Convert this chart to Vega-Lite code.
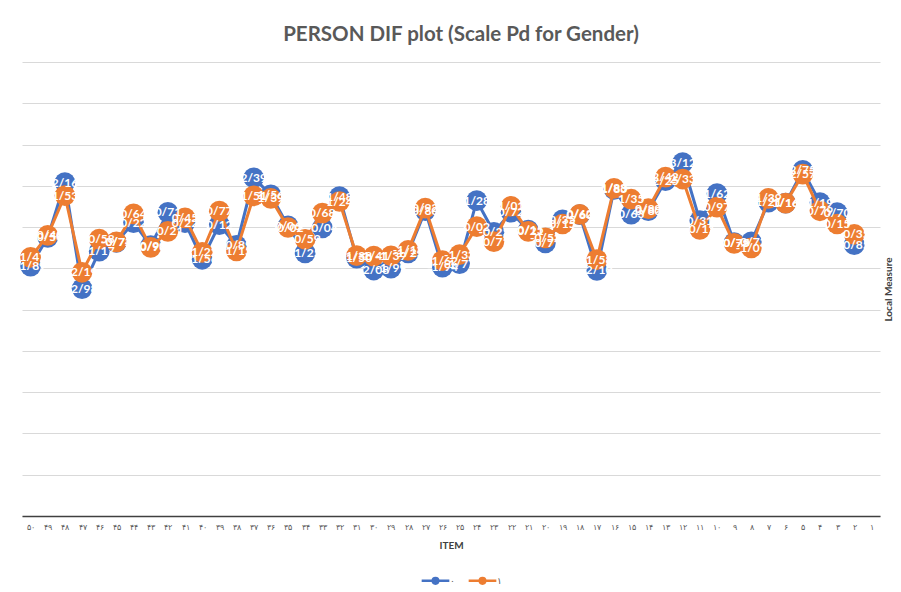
{
  "$schema": "https://vega.github.io/schema/vega-lite/v6.json",
  "width": 858,
  "height": 454,
  "autosize": {"type": "none"},
  "padding": {"left": 22, "top": 62, "right": 21, "bottom": 76},
  "background": "white",
  "title": {"text": "PERSON DIF plot (Scale Pd for Gender)", "fontSize": 20.5, "font": "Lato", "fontWeight": "bold", "color": "#595959", "offset": 17, "dx": 10},
  "data": {"values": [
    {"item": "۵۰", "g": "۰", "v": -1.89}, {"item": "۴۹", "g": "۰", "v": -0.5}, {"item": "۴۸", "g": "۰", "v": 2.16}, {"item": "۴۷", "g": "۰", "v": -2.98}, {"item": "۴۶", "g": "۰", "v": -1.17},
    {"item": "۴۵", "g": "۰", "v": -0.74}, {"item": "۴۴", "g": "۰", "v": 0.22}, {"item": "۴۳", "g": "۰", "v": -0.9}, {"item": "۴۲", "g": "۰", "v": 0.71}, {"item": "۴۱", "g": "۰", "v": 0.22},
    {"item": "۴۰", "g": "۰", "v": -1.56}, {"item": "۳۹", "g": "۰", "v": 0.12}, {"item": "۳۸", "g": "۰", "v": -0.89}, {"item": "۳۷", "g": "۰", "v": 2.39}, {"item": "۳۶", "g": "۰", "v": 1.56},
    {"item": "۳۵", "g": "۰", "v": 0.06}, {"item": "۳۴", "g": "۰", "v": -1.25}, {"item": "۳۳", "g": "۰", "v": -0.04}, {"item": "۳۲", "g": "۰", "v": 1.48}, {"item": "۳۱", "g": "۰", "v": -1.5},
    {"item": "۳۰", "g": "۰", "v": -2.08}, {"item": "۲۹", "g": "۰", "v": -1.99}, {"item": "۲۸", "g": "۰", "v": -1.25}, {"item": "۲۷", "g": "۰", "v": 0.8}, {"item": "۲۶", "g": "۰", "v": -1.94},
    {"item": "۲۵", "g": "۰", "v": -1.77}, {"item": "۲۴", "g": "۰", "v": 1.28}, {"item": "۲۳", "g": "۰", "v": -0.25}, {"item": "۲۲", "g": "۰", "v": 0.72}, {"item": "۲۱", "g": "۰", "v": -0.15},
    {"item": "۲۰", "g": "۰", "v": -0.77}, {"item": "۱۹", "g": "۰", "v": 0.35}, {"item": "۱۸", "g": "۰", "v": 0.6}, {"item": "۱۷", "g": "۰", "v": -2.1}, {"item": "۱۶", "g": "۰", "v": 1.83},
    {"item": "۱۵", "g": "۰", "v": 0.63}, {"item": "۱۴", "g": "۰", "v": 0.8}, {"item": "۱۳", "g": "۰", "v": 2.25}, {"item": "۱۲", "g": "۰", "v": 3.12}, {"item": "۱۱", "g": "۰", "v": 0.31},
    {"item": "۱۰", "g": "۰", "v": 1.62}, {"item": "۹", "g": "۰", "v": -0.75}, {"item": "۸", "g": "۰", "v": -0.72}, {"item": "۷", "g": "۰", "v": 1.21}, {"item": "۶", "g": "۰", "v": 1.16},
    {"item": "۵", "g": "۰", "v": 2.75}, {"item": "۴", "g": "۰", "v": 1.19}, {"item": "۳", "g": "۰", "v": 0.7}, {"item": "۲", "g": "۰", "v": -0.85},
    {"item": "۵۰", "g": "۱", "v": -1.47}, {"item": "۴۹", "g": "۱", "v": -0.4}, {"item": "۴۸", "g": "۱", "v": 1.53}, {"item": "۴۷", "g": "۱", "v": -2.19}, {"item": "۴۶", "g": "۱", "v": -0.58},
    {"item": "۴۵", "g": "۱", "v": -0.72}, {"item": "۴۴", "g": "۱", "v": 0.64}, {"item": "۴۳", "g": "۱", "v": -0.98}, {"item": "۴۲", "g": "۱", "v": -0.21}, {"item": "۴۱", "g": "۱", "v": 0.45},
    {"item": "۴۰", "g": "۱", "v": -1.22}, {"item": "۳۹", "g": "۱", "v": 0.77}, {"item": "۳۸", "g": "۱", "v": -1.15}, {"item": "۳۷", "g": "۱", "v": 1.51}, {"item": "۳۶", "g": "۱", "v": 1.39},
    {"item": "۳۵", "g": "۱", "v": -0.02}, {"item": "۳۴", "g": "۱", "v": -0.59}, {"item": "۳۳", "g": "۱", "v": 0.68}, {"item": "۳۲", "g": "۱", "v": 1.24}, {"item": "۳۱", "g": "۱", "v": -1.38},
    {"item": "۳۰", "g": "۱", "v": -1.41}, {"item": "۲۹", "g": "۱", "v": -1.39}, {"item": "۲۸", "g": "۱", "v": -1.13}, {"item": "۲۷", "g": "۱", "v": 0.92}, {"item": "۲۶", "g": "۱", "v": -1.62},
    {"item": "۲۵", "g": "۱", "v": -1.33}, {"item": "۲۴", "g": "۱", "v": 0.02}, {"item": "۲۳", "g": "۱", "v": -0.71}, {"item": "۲۲", "g": "۱", "v": 1.01}, {"item": "۲۱", "g": "۱", "v": -0.21},
    {"item": "۲۰", "g": "۱", "v": -0.52}, {"item": "۱۹", "g": "۱", "v": 0.15}, {"item": "۱۸", "g": "۱", "v": 0.62}, {"item": "۱۷", "g": "۱", "v": -1.58}, {"item": "۱۶", "g": "۱", "v": 1.88},
    {"item": "۱۵", "g": "۱", "v": 1.35}, {"item": "۱۴", "g": "۱", "v": 0.89}, {"item": "۱۳", "g": "۱", "v": 2.42}, {"item": "۱۲", "g": "۱", "v": 2.33}, {"item": "۱۱", "g": "۱", "v": -0.11},
    {"item": "۱۰", "g": "۱", "v": 0.97}, {"item": "۹", "g": "۱", "v": -0.79}, {"item": "۸", "g": "۱", "v": -1.01}, {"item": "۷", "g": "۱", "v": 1.39}, {"item": "۶", "g": "۱", "v": 1.16},
    {"item": "۵", "g": "۱", "v": 2.57}, {"item": "۴", "g": "۱", "v": 0.79}, {"item": "۳", "g": "۱", "v": 0.15}, {"item": "۲", "g": "۱", "v": -0.35}
  ]},
  "encoding": {
    "x": {
      "field": "item", "type": "ordinal", "sort": null,
      "scale": {"type": "point", "padding": 0.5, "domain": ["۵۰","۴۹","۴۸","۴۷","۴۶","۴۵","۴۴","۴۳","۴۲","۴۱","۴۰","۳۹","۳۸","۳۷","۳۶","۳۵","۳۴","۳۳","۳۲","۳۱","۳۰","۲۹","۲۸","۲۷","۲۶","۲۵","۲۴","۲۳","۲۲","۲۱","۲۰","۱۹","۱۸","۱۷","۱۶","۱۵","۱۴","۱۳","۱۲","۱۱","۱۰","۹","۸","۷","۶","۵","۴","۳","۲","۱"]},
      "axis": {"title": "ITEM", "labelAngle": 0, "ticks": false, "grid": false, "domain": true, "domainColor": "#404040", "domainWidth": 1.5, "labelFontSize": 8, "labelColor": "#595959", "labelPadding": 7, "titleFontSize": 10, "titleFont": "Lato", "titleFontWeight": "bold", "titleColor": "#404040", "titlePadding": 9}
    },
    "y": {
      "field": "v", "type": "quantitative",
      "scale": {"domain": [-14, 8], "nice": false, "zero": false},
      "axis": {"orient": "right", "values": [-14,-12,-10,-8,-6,-4,-2,0,2,4,6,8], "labels": false, "ticks": false, "domain": false, "grid": true, "gridColor": "#d9d9d9", "gridWidth": 1, "title": "Local Measure", "titleAngle": 270, "titleFontSize": 10, "titleFont": "Lato", "titleFontWeight": "bold", "titleColor": "#404040", "titlePadding": 13}
    },
    "color": {
      "field": "g", "type": "nominal",
      "scale": {"domain": ["۰","۱"], "range": ["#4472C4","#ED7D31"]},
      "legend": {"title": null, "orient": "none", "legendX": 403, "legendY": 508, "direction": "horizontal", "symbolType": "M-1.5,0H1.5M0.3,0A0.3,0.3,0,1,1,-0.3,0A0.3,0.3,0,1,1,0.3,0", "symbolSize": 340, "symbolStrokeWidth": 2.5, "labelFontSize": 9, "labelColor": "#595959", "columnPadding": 8, "labelOffset": 4}
    }
  },
  "layer": [
    {"transform": [{"filter": "datum.g === '۰'"}], "mark": {"type": "line", "strokeWidth": 3}, "encoding": {"order": {"value": null}}},
    {"transform": [{"filter": "datum.g === '۰'"}], "mark": {"type": "point", "filled": true, "size": 430, "opacity": 1}},
    {"transform": [{"filter": "datum.g === '۱'"}], "mark": {"type": "line", "strokeWidth": 3}, "encoding": {"order": {"value": null}}},
    {"transform": [{"filter": "datum.g === '۱'"}], "mark": {"type": "point", "filled": true, "size": 430, "opacity": 1}},
    {"mark": {"type": "text", "fontWeight": "bold", "fontSize": 12, "font": "Lato", "align": "center", "baseline": "middle"}, "encoding": {"text": {"field": "v", "type": "quantitative", "format": ".2f"}, "color": {"value": "white"}}}
  ],
  "config": {
    "locale": {"number": {"decimal": "/", "thousands": ",", "grouping": [3], "currency": ["", ""], "minus": "-"}},
    "view": {"stroke": null},
    "font": "Lato"
  }
}
